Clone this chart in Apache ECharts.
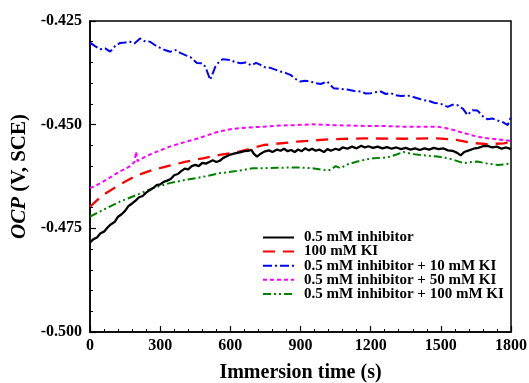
<!DOCTYPE html>
<html>
<head>
<meta charset="utf-8">
<script src="https://cdn.jsdelivr.net/npm/echarts@6/dist/echarts.min.js"></script>
<style>html,body{margin:0;padding:0;background:#fff}#c{width:529px;height:383px}</style>
</head>
<body>
<div id="c"></div>
<script>
const seriesNames = ['0.5 mM inhibitor', '100 mM KI', '0.5 mM inhibitor + 10 mM KI', '0.5 mM inhibitor + 50 mM KI', '0.5 mM inhibitor + 100 mM KI'];
const xTicks = [0, 300, 600, 900, 1200, 1500, 1800];
const yTicks = [-0.500, -0.475, -0.450, -0.425];

const inhibitor = [[0,-0.4784],[15,-0.4776],[30,-0.4772],[45,-0.4762],[60,-0.4758],[75,-0.4748],[90,-0.4740],[105,-0.4735],[120,-0.4722],[135,-0.4716],[150,-0.4708],[165,-0.4696],[180,-0.4690],[195,-0.4683],[210,-0.4675],[225,-0.4672],[240,-0.4664],[255,-0.4658],[270,-0.4653],[285,-0.4646],[300,-0.4644],[315,-0.4638],[330,-0.4635],[345,-0.4631],[360,-0.4622],[375,-0.4619],[390,-0.4612],[405,-0.4606],[420,-0.4608],[435,-0.4600],[450,-0.4597],[465,-0.4600],[480,-0.4592],[495,-0.4594],[510,-0.4590],[525,-0.4586],[540,-0.4590],[555,-0.4587],[570,-0.4580],[585,-0.4576],[600,-0.4572],[615,-0.4570],[630,-0.4568],[645,-0.4566],[660,-0.4564],[675,-0.4563],[690,-0.4561],[700,-0.4570],[714,-0.4577],[730,-0.4570],[745,-0.4565],[765,-0.4562],[780,-0.4566],[800,-0.4560],[815,-0.4563],[830,-0.4558],[845,-0.4564],[860,-0.4561],[875,-0.4566],[890,-0.4560],[905,-0.4564],[920,-0.4557],[935,-0.4562],[950,-0.4558],[965,-0.4563],[980,-0.4560],[1000,-0.4566],[1015,-0.4559],[1030,-0.4563],[1050,-0.4558],[1065,-0.4561],[1080,-0.4555],[1100,-0.4558],[1120,-0.4553],[1140,-0.4557],[1160,-0.4551],[1175,-0.4555],[1190,-0.4552],[1210,-0.4556],[1230,-0.4553],[1250,-0.4557],[1270,-0.4554],[1290,-0.4558],[1310,-0.4555],[1330,-0.4559],[1350,-0.4556],[1370,-0.4560],[1390,-0.4557],[1410,-0.4561],[1430,-0.4557],[1450,-0.4560],[1470,-0.4556],[1490,-0.4559],[1510,-0.4557],[1530,-0.4562],[1550,-0.4563],[1570,-0.4568],[1585,-0.4574],[1600,-0.4566],[1620,-0.4562],[1640,-0.4558],[1660,-0.4556],[1680,-0.4552],[1700,-0.4551],[1720,-0.4555],[1740,-0.4553],[1760,-0.4558],[1780,-0.4555],[1800,-0.4559]];

const ki100 = [[0,-0.4698],[54,-0.4670],[126,-0.4645],[197,-0.4623],[269,-0.4609],[340,-0.4599],[411,-0.4589],[483,-0.4581],[554,-0.4573],[626,-0.4567],[743,-0.4549],[886,-0.4541],[1029,-0.4535],[1171,-0.4533],[1341,-0.4534],[1486,-0.4533],[1571,-0.4537],[1629,-0.4544],[1700,-0.4547],[1770,-0.4545],[1800,-0.4541]];

const inhKi10 = [[0,-0.4302],[20,-0.4310],[43,-0.4318],[65,-0.4316],[86,-0.4324],[108,-0.4310],[129,-0.4303],[150,-0.4302],[171,-0.4300],[190,-0.4304],[214,-0.4292],[235,-0.4299],[257,-0.4300],[280,-0.4309],[300,-0.4315],[320,-0.4320],[343,-0.4324],[365,-0.4320],[386,-0.4327],[410,-0.4333],[429,-0.4337],[457,-0.4351],[480,-0.4352],[493,-0.4360],[514,-0.4392],[536,-0.4360],[555,-0.4346],[570,-0.4342],[600,-0.4344],[620,-0.4349],[643,-0.4352],[665,-0.4350],[690,-0.4357],[710,-0.4351],[729,-0.4356],[750,-0.4362],[771,-0.4363],[795,-0.4368],[814,-0.4372],[835,-0.4375],[857,-0.4380],[880,-0.4390],[900,-0.4396],[920,-0.4394],[943,-0.4396],[965,-0.4400],[986,-0.4402],[1014,-0.4396],[1041,-0.4412],[1070,-0.4414],[1100,-0.4415],[1130,-0.4419],[1157,-0.4420],[1180,-0.4425],[1200,-0.4424],[1220,-0.4422],[1243,-0.4420],[1265,-0.4426],[1286,-0.4424],[1308,-0.4429],[1329,-0.4431],[1360,-0.4430],[1386,-0.4434],[1410,-0.4438],[1429,-0.4441],[1450,-0.4443],[1471,-0.4447],[1500,-0.4450],[1529,-0.4457],[1550,-0.4452],[1571,-0.4453],[1595,-0.4462],[1614,-0.4477],[1635,-0.4465],[1657,-0.4466],[1680,-0.4480],[1700,-0.4487],[1720,-0.4485],[1743,-0.4490],[1765,-0.4494],[1786,-0.4501],[1800,-0.4481]];

const inhKi50 = [[0,-0.4653],[25,-0.4647],[54,-0.4638],[90,-0.4626],[126,-0.4613],[150,-0.4607],[171,-0.4600],[190,-0.4590],[197,-0.4565],[203,-0.4588],[210,-0.4585],[240,-0.4576],[269,-0.4569],[300,-0.4562],[340,-0.4553],[375,-0.4547],[411,-0.4541],[450,-0.4535],[483,-0.4529],[515,-0.4523],[549,-0.4517],[600,-0.4511],[670,-0.4507],[741,-0.4505],[810,-0.4502],[886,-0.4501],[950,-0.4499],[1029,-0.4501],[1100,-0.4502],[1170,-0.4503],[1250,-0.4503],[1341,-0.4505],[1420,-0.4505],[1486,-0.4505],[1520,-0.4508],[1556,-0.4513],[1590,-0.4519],[1629,-0.4525],[1665,-0.4530],[1700,-0.4533],[1750,-0.4536],[1800,-0.4539]];

const inhKi100 = [[0,-0.4722],[54,-0.4706],[126,-0.4686],[197,-0.4670],[269,-0.4653],[340,-0.4641],[411,-0.4633],[483,-0.4626],[554,-0.4617],[626,-0.4612],[697,-0.4605],[741,-0.4605],[800,-0.4604],[886,-0.4603],[950,-0.4605],[1010,-0.4610],[1029,-0.4609],[1050,-0.4600],[1071,-0.4605],[1100,-0.4596],[1143,-0.4589],[1180,-0.4584],[1214,-0.4581],[1271,-0.4579],[1310,-0.4572],[1341,-0.4566],[1380,-0.4571],[1414,-0.4573],[1450,-0.4575],[1486,-0.4577],[1520,-0.4580],[1556,-0.4585],[1599,-0.4593],[1630,-0.4590],[1657,-0.4589],[1700,-0.4594],[1743,-0.4597],[1770,-0.4596],[1800,-0.4593]];

const dataSets = [inhibitor, ki100, inhKi10, inhKi50, inhKi100];
const colors = ['#000000', '#ff0000', '#0000ff', '#ff00ff', '#008000'];
const dashes = ['solid', [12, 8], [9, 3, 2, 3], [4, 3], [8, 3, 2, 3, 2, 3]];
const widths = [2.3, 2.3, 2, 2, 2];

const FONT = '"Liberation Serif", "Times New Roman", serif';
const chart = echarts.init(document.getElementById('c'), null, {renderer: 'canvas'});
chart.setOption({
  animation: false,
  backgroundColor: '#fff',
  grid: {left: 90, right: 18, top: 21, bottom: 51, outerBoundsMode: 'none', containLabel: false,
    show: true, borderColor: '#000', borderWidth: 1.5, backgroundColor: 'transparent'},
  xAxis: {
    type: 'value', min: xTicks[0], max: xTicks[xTicks.length - 1], interval: 300,
    name: 'Immersion time (s)', nameLocation: 'middle', nameGap: 31,
    nameTextStyle: {fontFamily: FONT, fontWeight: 'bold', fontSize: 20, color: '#000'},
    axisLine: {lineStyle: {color: '#000', width: 1.5}},
    axisTick: {inside: true, length: 6, lineStyle: {color: '#000', width: 1.2}},
    minorTick: {show: true, splitNumber: 5, length: 3, lineStyle: {color: '#000', width: 1}},
    splitLine: {show: false},
    axisLabel: {fontFamily: FONT, fontWeight: 'bold', fontSize: 16, color: '#000', margin: 6,
      formatter: v => String(v)}
  },
  yAxis: {
    type: 'value', min: yTicks[0], max: yTicks[yTicks.length - 1], interval: 0.025,
    name: '{i|OCP} (V, SCE)', nameLocation: 'middle', nameGap: 58, nameRotate: 90,
    nameTextStyle: {fontFamily: FONT, fontWeight: 'bold', fontSize: 21, color: '#000',
      rich: {i: {fontFamily: FONT, fontWeight: 'bold', fontStyle: 'italic', fontSize: 21, color: '#000'}}},
    axisLine: {lineStyle: {color: '#000', width: 1.5}},
    axisTick: {inside: true, length: 6, lineStyle: {color: '#000', width: 1.2}},
    minorTick: {show: true, splitNumber: 5, length: 3, lineStyle: {color: '#000', width: 1}},
    splitLine: {show: false},
    axisLabel: {fontFamily: FONT, fontWeight: 'bold', fontSize: 16, color: '#000', margin: 8,
      formatter: v => v.toFixed(3)}
  },
  legend: {
    orient: 'vertical', left: 257, top: 230, padding: [0, 5, 0, 5],
    itemWidth: 31, itemHeight: 14, itemGap: -0.9,
    itemStyle: {opacity: 0},
    textStyle: {fontFamily: FONT, fontWeight: 'bold', fontSize: 15, color: '#000', lineHeight: 14, padding: [0, 0, 0, 5]},
    data: seriesNames
  },
  series: dataSets.map((d, i) => ({
    name: seriesNames[i], type: 'line', data: d, showSymbol: false, symbol: 'none',
    smooth: false, z: 10 - i,
    lineStyle: {color: colors[i], width: widths[i], type: dashes[i]},
    itemStyle: {color: colors[i]}
  }))
});
</script>
</body>
</html>
